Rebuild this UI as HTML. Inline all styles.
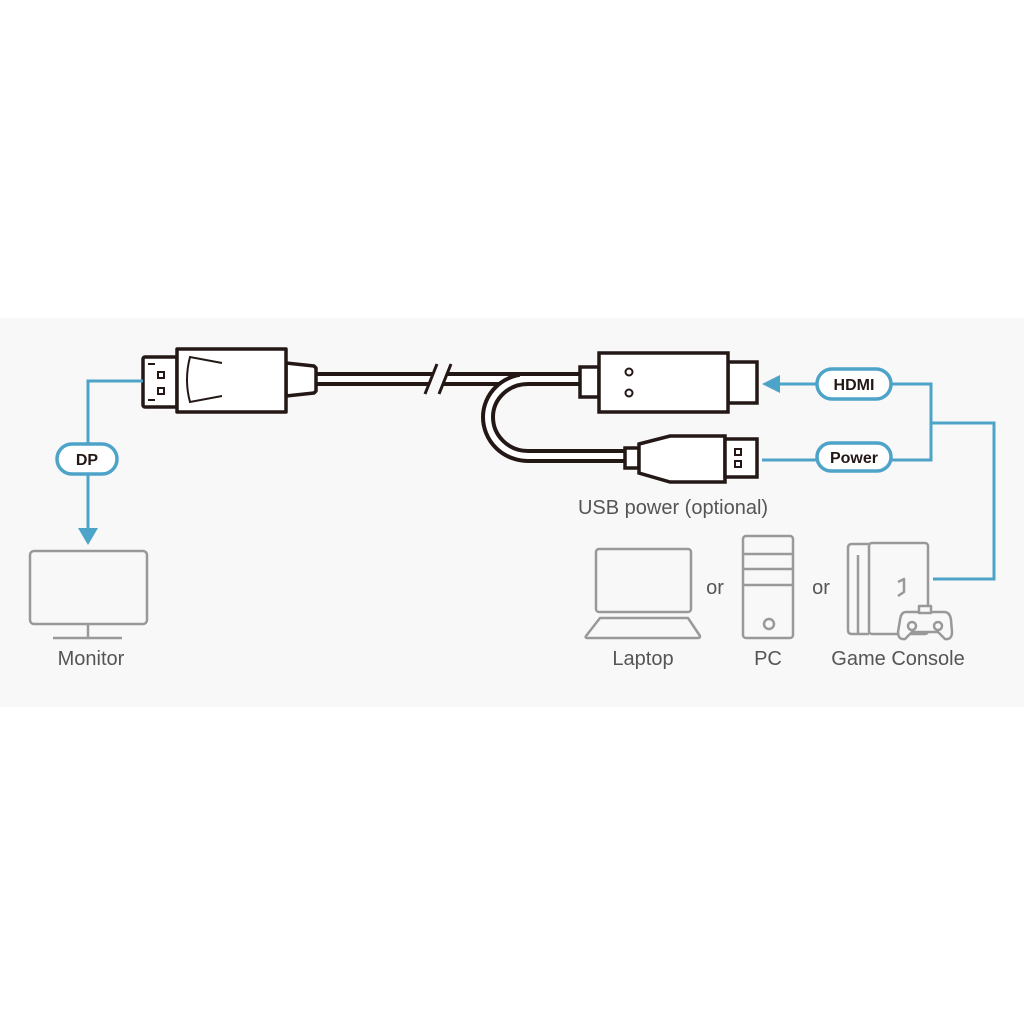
<!DOCTYPE html>
<html><head><meta charset="utf-8"><style>
html,body{margin:0;padding:0;background:#fff;}
svg{display:block;}
text{font-family:"Liberation Sans","DejaVu Sans",sans-serif;}
</style></head><body>
<svg width="1024" height="1024" viewBox="0 0 1024 1024" xmlns="http://www.w3.org/2000/svg">
<rect x="0" y="0" width="1024" height="1024" fill="#fff"/>
<rect x="0" y="318" width="1024" height="389" fill="#f8f8f8"/>

<!-- cables -->
<g fill="none" stroke-linecap="butt">
<path d="M316 379 H580" stroke="#231815" stroke-width="14"/>
<path d="M316 379 H580" stroke="#fff" stroke-width="6"/>
<path d="M590 379 H528 A40 38 0 0 0 488 417 A40 39 0 0 0 528 456 H626" stroke="#231815" stroke-width="14"/>
<path d="M590 379 H528 A40 38 0 0 0 488 417 A40 39 0 0 0 528 456 H626" stroke="#fff" stroke-width="6"/>
<path d="M520 379 H580" stroke="#fff" stroke-width="6"/>
</g>
<!-- break -->
<polygon points="426,396 438,362 450,362 438,396" fill="#f8f8f8"/>
<line x1="425" y1="394" x2="437" y2="364" stroke="#231815" stroke-width="3"/>
<line x1="439" y1="394" x2="451" y2="364" stroke="#231815" stroke-width="3"/>

<!-- DP connector -->
<g fill="#fff" stroke="#231815" stroke-width="3.5" stroke-linejoin="round">
<path d="M286 363 L314 366 L316 368 V391 L314 393 L286 396 Z"/>
<rect x="143" y="357" width="34" height="50" rx="2"/>
<rect x="177" y="349" width="109" height="63"/>
</g>
<path d="M222 363 L190 357 Q184 380 190 402 L222 396" fill="none" stroke="#231815" stroke-width="2"/>
<rect x="158" y="372" width="6" height="6" fill="none" stroke="#231815" stroke-width="2"/>
<rect x="158" y="388" width="6" height="6" fill="none" stroke="#231815" stroke-width="2"/>
<line x1="148" y1="364" x2="155" y2="364" stroke="#231815" stroke-width="2"/>
<line x1="148" y1="400" x2="155" y2="400" stroke="#231815" stroke-width="2"/>

<!-- HDMI connector -->
<g fill="#fff" stroke="#231815" stroke-width="3.5">
<rect x="580" y="367" width="19" height="30"/>
<rect x="728" y="362" width="29" height="41"/>
<rect x="599" y="353" width="129" height="59"/>
</g>
<circle cx="629" cy="372" r="3.5" fill="none" stroke="#231815" stroke-width="2"/>
<circle cx="629" cy="393" r="3.5" fill="none" stroke="#231815" stroke-width="2"/>

<!-- USB connector -->
<g fill="#fff" stroke="#231815" stroke-width="3.5" stroke-linejoin="miter">
<rect x="625" y="448" width="14" height="20"/>
<path d="M639 444 L670 436 H725 V482 H670 L639 473 Z"/>
<rect x="725" y="439" width="32" height="38"/>
</g>
<rect x="735" y="449" width="6" height="6" fill="none" stroke="#231815" stroke-width="2"/>
<rect x="735" y="461" width="6" height="6" fill="none" stroke="#231815" stroke-width="2"/>

<!-- blue lines -->
<g fill="none" stroke="#4ea3c9" stroke-width="3">
<path d="M143 381 H88 V530"/>
<path d="M780 384 H818"/>
<path d="M762 460 H818"/>
<path d="M891 384 H931 V460 H891"/>
<path d="M931 423 H994 V579 H933"/>
</g>
<polygon points="78,528 98,528 88,545" fill="#4ea3c9"/>
<polygon points="762,384 780,375 780,393" fill="#4ea3c9"/>

<!-- pills -->
<g fill="#fff" stroke="#4ea3c9" stroke-width="3.5">
<rect x="57" y="444" width="60" height="30" rx="15"/>
<rect x="817" y="369" width="74" height="30" rx="15"/>
<rect x="817" y="443" width="74" height="28" rx="14"/>
</g>
<g font-weight="bold" font-size="16" fill="#231815" text-anchor="middle">
<text x="87" y="465">DP</text>
<text x="854" y="390">HDMI</text>
<text x="854" y="463">Power</text>
</g>

<!-- gray devices -->
<g fill="none" stroke="#999" stroke-width="2.5" stroke-linejoin="round">
<rect x="30" y="551" width="117" height="73" rx="4"/>
<line x1="88" y1="624" x2="88" y2="638"/>
<line x1="53" y1="638" x2="122" y2="638"/>
<!-- laptop -->
<rect x="596" y="549" width="95" height="63" rx="3"/>
<path d="M600 618 H688 L700 636 Q700 638 698 638 H587 Q585 638 586 636 Z"/>
<!-- pc -->
<rect x="743" y="536" width="50" height="102" rx="3"/>
<line x1="743" y1="554" x2="793" y2="554"/>
<line x1="743" y1="569" x2="793" y2="569"/>
<line x1="743" y1="585" x2="793" y2="585"/>
<circle cx="769" cy="624" r="5"/>
<!-- console -->
<path d="M869 544 H852 Q848 544 848 548 V630 Q848 634 852 634 H869"/>
<line x1="858" y1="555" x2="858" y2="634"/>
<rect x="869" y="543" width="59" height="91" rx="3"/>
<path d="M898 582 L904 579 V592 L898 596"/>
<path d="M906 612 H944 Q950 612 951 620 L952 632 Q952 640 945 639 L938 632 H912 L905 639 Q898 640 898 632 L900 620 Q901 612 906 612 Z" fill="#f8f8f8"/>
<rect x="919" y="606" width="12" height="7" fill="#f8f8f8"/>
<circle cx="912" cy="626" r="4"/>
<circle cx="938" cy="626" r="4"/>
</g>

<!-- labels -->
<g font-size="20" fill="#555" text-anchor="middle">
<text x="91" y="665">Monitor</text>
<text x="673" y="514">USB power (optional)</text>
<text x="643" y="665">Laptop</text>
<text x="768" y="665">PC</text>
<text x="898" y="665">Game Console</text>
<text x="715" y="594">or</text>
<text x="821" y="594">or</text>
</g>
</svg>
</body></html>
